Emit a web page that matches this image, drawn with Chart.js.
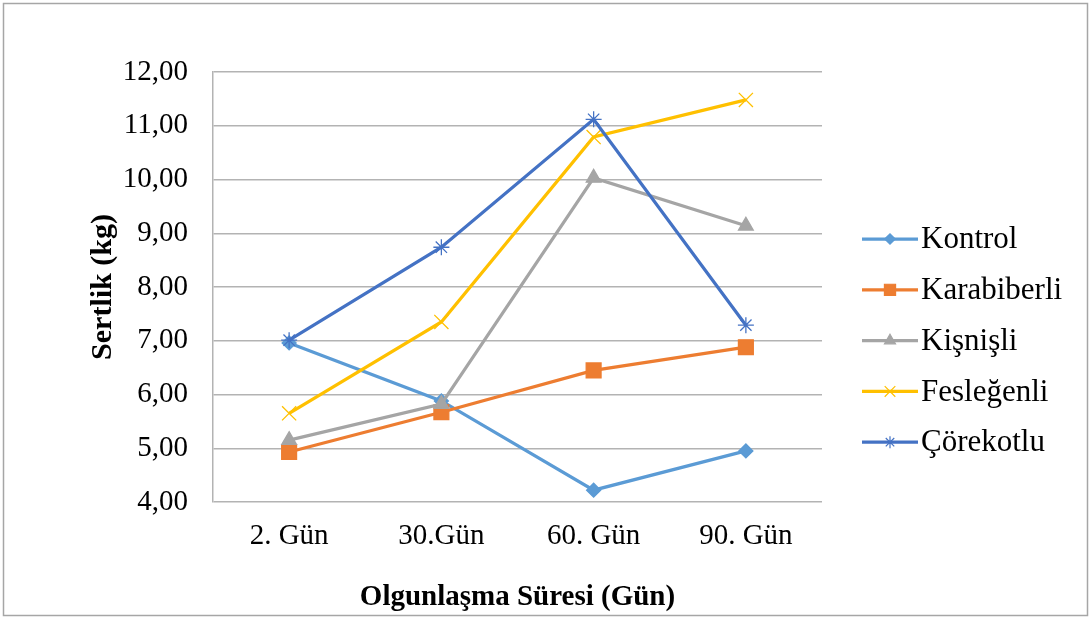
<!DOCTYPE html>
<html>
<head>
<meta charset="utf-8">
<script src="https://cdn.jsdelivr.net/npm/chart.js@4"></script>
<style>
  html, body { margin: 0; padding: 0; background: #fff; }
  #wrap { width: 1091px; height: 619px; }
</style>
</head>
<body>
<div id="wrap"><canvas id="grafik"></canvas></div>
<script>
const gunler = ['2. Gün', '30.Gün', '60. Gün', '90. Gün'];
const kontrol = [6.96, 5.88, 4.22, 4.95];
const karabiberli = [4.93, 5.67, 6.45, 6.88];
const kisnisli = [5.15, 5.82, 10.03, 9.14];
const feslegenli = [5.65, 7.35, 10.79, 11.48];
const corekotlu = [7.01, 8.74, 11.12, 7.29];

const fontAdi = '"Liberation Serif", "Times New Roman", serif';

function seri(ad, veri, renk, stil, boyut, sira) {
    return {
        label: ad,
        data: veri,
        borderColor: renk,
        backgroundColor: renk,
        pointBackgroundColor: renk,
        pointBorderColor: renk,
        pointStyle: stil,
        pointRadius: boyut,
        pointBorderWidth: 1.3,
        borderWidth: 3.25,
        tension: 0,
        order: sira
    };
}

const veriSetleri = [
    seri('Kontrol', kontrol, '#5B9BD5', 'rectRot', 7, 5),
    seri('Karabiberli', karabiberli, '#ED7D31', 'rect', 10.5, 4),
    seri('Kişnişli', kisnisli, '#A5A5A5', 'triangle', 8.5, 3),
    seri('Fesleğenli', feslegenli, '#FFC000', 'crossRot', 10, 2),
    seri('Çörekotlu', corekotlu, '#4472C4', 'star', 8, 1)
];

// cerceve ve legend (cizgi + isaret) icin kucuk eklenti
const cercevePlugin = {
    id: 'cerceve',
    beforeDraw(chart) {
        const c = chart.ctx;
        c.save();
        c.fillStyle = '#fff';
        c.fillRect(0, 0, chart.width, chart.height);
        c.strokeStyle = '#A6A6A6';
        c.lineWidth = 1.5;
        c.strokeRect(3.5, 3.5, 1084, 612);
        c.restore();
    },
    afterDraw(chart) {
        const c = chart.ctx;
        c.save();
        chart.data.datasets.forEach((ds, i) => {
            const y = 239 + i * 50.8;
            c.strokeStyle = ds.borderColor;
            c.lineWidth = 3.25;
            c.beginPath();
            c.moveTo(862, y);
            c.lineTo(918, y);
            c.stroke();
            c.fillStyle = ds.borderColor;
            c.lineWidth = 1.2;
            Chart.helpers.drawPoint(c, { pointStyle: ds.pointStyle, rotation: 0, borderWidth: 1.2, radius: ds.pointRadius * 0.75 }, 890, y);
            c.fillStyle = '#000';
            c.font = '31px ' + fontAdi;
            c.textBaseline = 'middle';
            c.fillText(ds.label, 921, y + 1);
        });
        c.restore();
    }
};

const ctx = document.getElementById('grafik').getContext('2d');

const grafik = new Chart(ctx, {
    type: 'line',
    data: {
        labels: gunler,
        datasets: veriSetleri
    },
    plugins: [cercevePlugin],
    options: {
        responsive: true,
        maintainAspectRatio: false,
        animation: false,
        layout: {
            padding: { left: 82, right: 269, top: 72, bottom: 0 }
        },
        plugins: {
            legend: { display: false },
            tooltip: { enabled: false }
        },
        scales: {
            x: {
                offset: true,
                grid: { display: false, drawTicks: false },
                border: { display: false },
                ticks: {
                    color: '#000',
                    padding: 17,
                    font: { family: fontAdi, size: 29 }
                },
                title: {
                    display: true,
                    text: 'Olgunlaşma Süresi (Gün)',
                    color: '#000',
                    padding: { top: 0, bottom: 4 },
                    font: { family: fontAdi, size: 29, weight: 'bold' }
                },
                afterFit(scale) { scale.height = 117; }
            },
            y: {
                min: 4,
                max: 12,
                ticks: {
                    stepSize: 1,
                    color: '#000',
                    padding: 25,
                    font: { family: fontAdi, size: 29 },
                    callback: v => v.toFixed(2).replace('.', ',')
                },
                grid: { color: '#B3B3B3', lineWidth: 1.5, drawTicks: false },
                border: { display: true, color: '#B3B3B3', width: 1.5 },
                title: {
                    display: true,
                    text: 'Sertlik (kg)',
                    color: '#000',
                    padding: { top: 3, bottom: 0 },
                    font: { family: fontAdi, size: 30, weight: 'bold' }
                },
                afterFit(scale) { scale.width = 131; }
            }
        }
    }
});
</script>
</body>
</html>
